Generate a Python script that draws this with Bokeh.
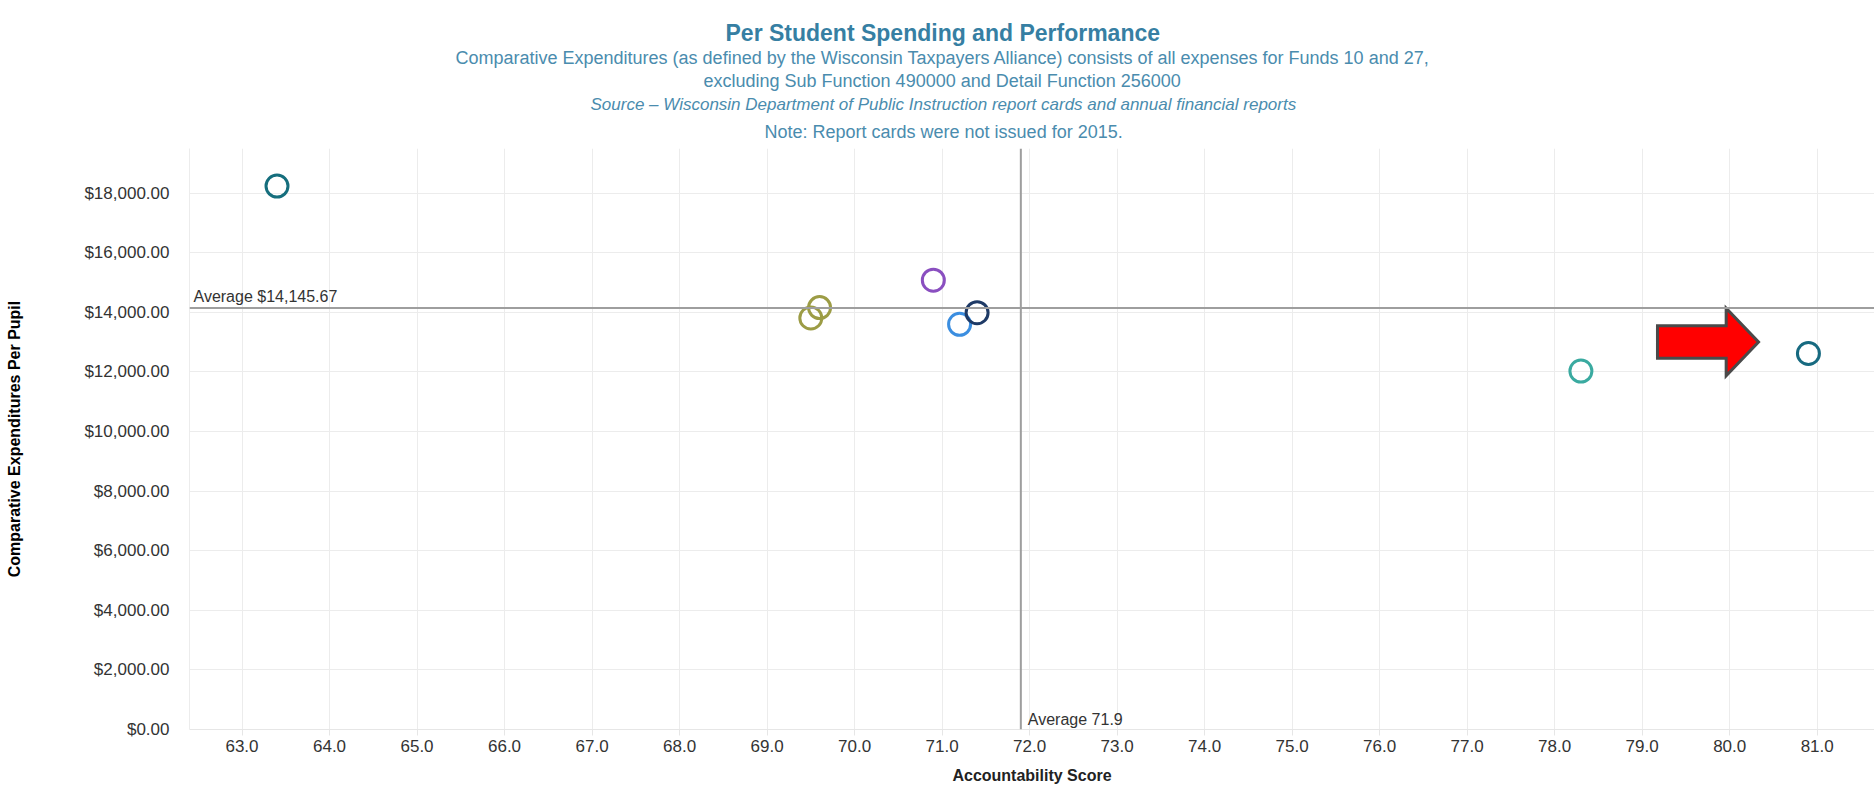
from bokeh.plotting import figure
from bokeh.models import (Range1d, FixedTicker, NumeralTickFormatter, Span, Label,
                          Title, ColumnDataSource)
from bokeh.embed import file_html
from bokeh.resources import INLINE

# ---------------- data ----------------
title_text = "Per Student Spending and Performance"
subtitle_lines = [
    "Comparative Expenditures (as defined by the Wisconsin Taxpayers Alliance) consists of all expenses for Funds 10 and 27,",
    "excluding Sub Function 490000 and Detail Function 256000",
]
source_text = "Source \u2013 Wisconsin Department of Public Instruction report cards and annual financial reports"
note_text = "Note: Report cards were not issued for 2015."
x_label = "Accountability Score"
y_label = "Comparative Expenditures Per Pupil"

scores = [63.4, 69.6, 69.5, 70.9, 71.2, 71.4, 78.3, 80.9]
spending = [18240, 14160, 13810, 15080, 13600, 13990, 12030, 12620]
point_colors = ["#156e7d", "#9c9c45", "#9c9c45", "#8a4fc0", "#3b8ee0", "#1e3a66", "#3aaaa0", "#176a80"]

avg_score = 71.9
avg_spending = 14145.67

x_ticks = [63, 64, 65, 66, 67, 68, 69, 70, 71, 72, 73, 74, 75, 76, 77, 78, 79, 80, 81]
y_ticks = [0, 2000, 4000, 6000, 8000, 10000, 12000, 14000, 16000, 18000]

highlight_index = 7  # the point the red arrow points at

# ---------------- layout constants ----------------
FONT = "Liberation Sans"
TITLE_COLOR = "#367fa3"
SUB_COLOR = "#4a8cae"
W, H = 1874, 790
BORDER_L, BORDER_T, BORDER_B = 189, 148, 61
X0, X1 = 62.4, 81.655
Y0, Y1 = 0, 19500

p = figure(width=W, height=H, output_backend="svg", toolbar_location=None,
           x_range=Range1d(X0, X1), y_range=Range1d(Y0, Y1),
           min_border_left=BORDER_L, min_border_right=0, min_border_top=BORDER_T,
           min_border_bottom=BORDER_B)
p.outline_line_color = None
p.background_fill_color = "white"
p.border_fill_color = "white"

# title block: stacked bottom-up; left offsets centre each line near x=942
for text, size, style, color, offset, standoff in [
    (note_text, "18px", "normal", SUB_COLOR, 575, 13),
    (source_text, "17px", "italic", SUB_COLOR, 401, 0),
    (subtitle_lines[1], "18px", "normal", SUB_COLOR, 514, 3),
    (subtitle_lines[0], "18px", "normal", SUB_COLOR, 266, 0),
    (title_text, "23px", "bold", TITLE_COLOR, 536, 0),
]:
    p.add_layout(Title(text=text, align="left", offset=offset, text_font=FONT,
                       text_font_size=size, text_font_style=style,
                       text_color=color, standoff=standoff), "above")

# axes
xa = p.xaxis[0]
xa.ticker = FixedTicker(ticks=x_ticks)
xa.formatter = NumeralTickFormatter(format="0.0")
xa.axis_label = x_label
xa.axis_label_text_font = FONT
xa.axis_label_text_font_size = "16px"
xa.axis_label_text_font_style = "bold"
xa.axis_label_text_color = "#222222"
xa.axis_label_standoff = 12
xa.major_label_text_font = FONT
xa.major_label_text_font_size = "17px"
xa.major_label_text_color = "#333333"
xa.major_label_standoff = 4
xa.axis_line_color = "#e6e6e6"
xa.major_tick_line_color = "#e6e6e6"
xa.major_tick_in = 0
xa.major_tick_out = 6
xa.minor_tick_line_color = None

ya = p.yaxis[0]
ya.ticker = FixedTicker(ticks=y_ticks)
ya.formatter = NumeralTickFormatter(format="$0,0.00")
ya.axis_label = y_label
ya.axis_label_text_font = FONT
ya.axis_label_text_font_size = "16px"
ya.axis_label_text_font_style = "bold"
ya.axis_label_text_color = "#000000"
ya.axis_label_standoff = 58
ya.major_label_text_font = FONT
ya.major_label_text_font_size = "17px"
ya.major_label_text_color = "#333333"
ya.major_label_standoff = 14
ya.axis_line_color = "#ececec"
ya.major_tick_line_color = None
ya.minor_tick_line_color = None

p.xgrid.ticker = FixedTicker(ticks=x_ticks)
p.ygrid.ticker = FixedTicker(ticks=y_ticks)
p.xgrid.grid_line_color = "#ececec"
p.ygrid.grid_line_color = "#ececec"

# average lines
p.add_layout(Span(location=avg_score, dimension="height", line_color="#9e9e9e", line_width=2))
p.add_layout(Span(location=avg_spending, dimension="width", line_color="#9e9e9e", line_width=2))

p.add_layout(Label(x=X0, y=avg_spending, x_offset=4, y_offset=3,
                   text=f"Average ${avg_spending:,.2f}", text_baseline="bottom",
                   text_font=FONT, text_font_size="16px", text_color="#333333"))
p.add_layout(Label(x=avg_score, y=Y0, x_offset=7, y_offset=2,
                   text=f"Average {avg_score}", text_baseline="bottom",
                   text_font=FONT, text_font_size="16px", text_color="#333333"))

# points
src = ColumnDataSource(dict(x=scores, y=spending, c=point_colors))
p.scatter("x", "y", source=src, marker="circle", size=22, fill_alpha=0,
          line_color="c", line_width=3)

# red arrow annotation pointing at the highlighted point
tx, ty = scores[highlight_index], spending[highlight_index]
tip_x, tip_y = tx - 0.57, ty + 385
arrow_len, head_len = 1.155, 0.37
body_half, head_half = 542, 1131
ax = [tip_x - arrow_len, tip_x - head_len, tip_x - head_len, tip_x,
      tip_x - head_len, tip_x - head_len, tip_x - arrow_len]
ay = [tip_y + body_half, tip_y + body_half, tip_y + head_half, tip_y,
      tip_y - head_half, tip_y - body_half, tip_y - body_half]
p.patch(ax, ay, fill_color="#ff0000", line_color="#4a4a4a", line_width=3,
        line_join="miter")

open("out.html", "w").write(file_html(p, INLINE))
